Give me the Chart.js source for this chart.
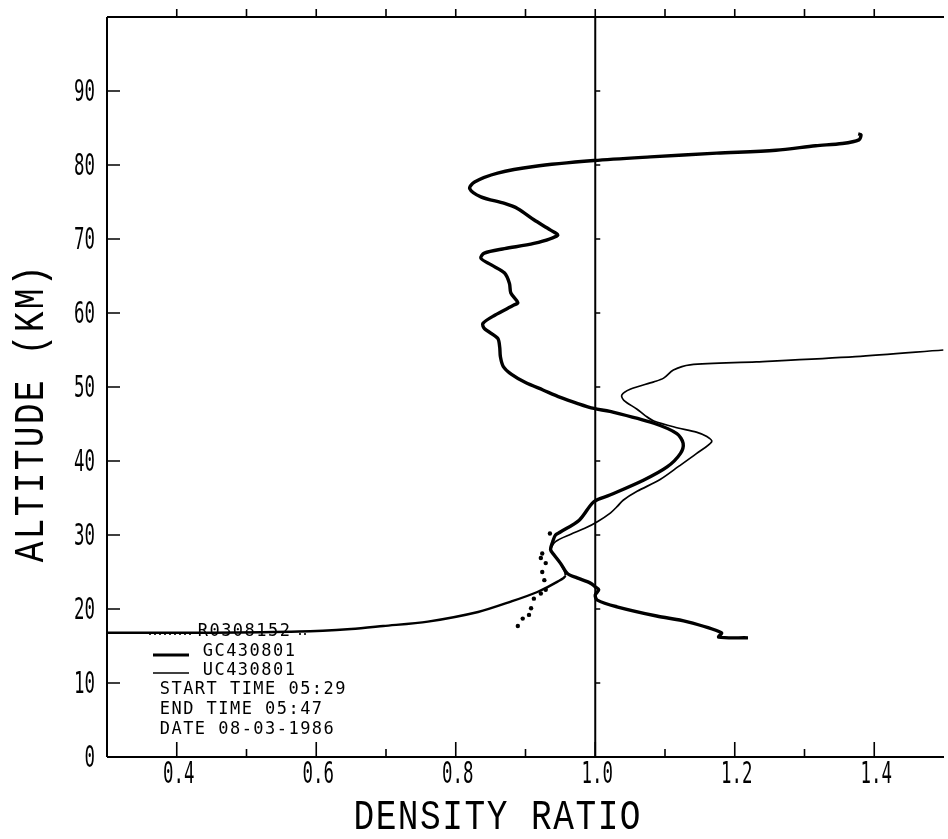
<!DOCTYPE html>
<html>
<head>
<meta charset="utf-8">
<script src="https://cdn.jsdelivr.net/npm/chart.js@4"></script>
<style>
html,body{margin:0;padding:0;background:#fff;}
#wrap{width:948px;height:839px;position:relative;}
</style>
</head>
<body>
<div id="wrap"><canvas id="c" width="948" height="839"></canvas></div>
<script>
// ---- data ----
const gcX = [1.219,1.177,1.181,1.131,1.088,1.031,1.003,1.000,1.005,1.000,0.993,0.974,0.960,0.950,0.941,0.936,0.939,0.943,0.950,0.977,0.998,1.021,1.069,1.103,1.122,1.126,1.117,1.084,1.021,0.998,0.974,0.950,0.925,0.900,0.880,0.868,0.864,0.863,0.860,0.841,0.839,0.856,0.884,0.889,0.879,0.877,0.870,0.851,0.836,0.841,0.870,0.912,0.946,0.936,0.912,0.889,0.870,0.836,0.820,0.827,0.860,0.912,0.998,1.079,1.174,1.259,1.316,1.354,1.378,1.381,1.377];
const gcY = [16.1,16.2,16.8,18.3,19.05,20.3,21.2,21.9,22.6,23.0,23.5,24.2,24.8,26.2,27.3,28.0,29.1,30.0,30.4,32.0,34.5,35.4,37.4,39.2,41.0,42.4,43.7,45.1,46.7,47.1,47.8,48.6,49.6,50.6,51.7,52.8,54.1,55.4,56.6,57.9,58.6,59.7,61.1,61.4,62.7,64.0,65.4,66.5,67.4,68.1,68.7,69.4,70.5,71.2,72.6,74.1,74.8,75.7,76.8,77.7,78.9,79.8,80.6,81.1,81.6,82.0,82.6,82.9,83.4,84.1,84.2];

const ucX = [0.300,0.450,0.575,0.650,0.696,0.760,0.832,0.879,0.917,0.946,0.957,0.950,0.941,0.936,0.943,0.965,0.985,1.003,1.022,1.032,1.040,1.060,1.093,1.120,1.145,1.167,1.160,1.145,1.117,1.084,1.072,1.060,1.041,1.038,1.050,1.084,1.098,1.112,1.136,1.231,1.373,1.499];
const ucY = [16.8,16.8,16.95,17.3,17.7,18.3,19.6,21.0,22.3,23.7,24.5,26.2,27.3,28.0,29.1,30.1,30.9,31.8,33.0,33.9,34.7,35.9,37.5,39.3,41.0,42.6,43.3,43.9,44.5,45.4,46.1,47.0,48.2,48.9,49.7,50.7,51.2,52.3,53.0,53.4,54.1,55.0];

const rX = [0.889,0.896,0.905,0.908,0.912,0.922,0.929,0.927,0.924,0.929,0.922,0.924,0.935];
const rY = [17.7,18.7,19.2,20.1,21.4,22.1,22.6,23.9,25.0,26.2,26.9,27.5,30.2];

const xTicks = [0.4,0.6,0.8,1.0,1.2,1.4];
const xTickLabels = ['0.4','0.6','0.8','1.0','1.2','1.4'];
const xMinorTicks = [0.5,0.7,0.9,1.1,1.3];
const topTicks = [0.4,0.5,0.6,0.7,0.8,0.9,1.0,1.1,1.2,1.3,1.4];
const yTicks = [0,10,20,30,40,50,60,70,80,90];
const yTickLabels = ['0','10','20','30','40','50','60','70','80','90'];
const legendNames = ['R0308152','GC430801','UC430801'];
const infoLines = ['START TIME 05:29','END TIME 05:47','DATE 08-03-1986'];
const xTitle = 'DENSITY RATIO';
const yTitle = 'ALTITUDE (KM)';

const toPts = (xs, ys) => xs.map((x, i) => ({x: x, y: ys[i]}));

function drawChars(ctx, text, x0, cy, adv, font, sx) {
  ctx.font = font;
  ctx.textAlign = 'center';
  ctx.textBaseline = 'middle';
  for (let i = 0; i < text.length; i++) {
    ctx.save();
    ctx.translate(x0 + adv * (i + 0.5), cy);
    ctx.scale(sx, 1);
    ctx.fillText(text[i], 0, 0);
    ctx.restore();
  }
}

const decor = {
  id: 'decor',
  afterDatasetsDraw(chart) {
    const ctx = chart.ctx;
    const xs = chart.scales.x, ys = chart.scales.y;
    const L = xs.left, R = xs.right, T = ys.top, B = ys.bottom;
    ctx.save();
    ctx.strokeStyle = '#000';
    ctx.fillStyle = '#000';
    ctx.lineCap = 'butt';
    // frame lines
    ctx.lineWidth = 2;
    ctx.beginPath();
    ctx.moveTo(L, T); ctx.lineTo(R, T);
    ctx.moveTo(L, T); ctx.lineTo(L, B);
    ctx.moveTo(L, B); ctx.lineTo(R, B);
    const x1 = xs.getPixelForValue(1.0);
    ctx.moveTo(x1, T); ctx.lineTo(x1, B);
    ctx.stroke();
    // top ticks (outward)
    ctx.lineWidth = 1.6;
    ctx.beginPath();
    topTicks.forEach(v => { const p = xs.getPixelForValue(v); ctx.moveTo(p, T); ctx.lineTo(p, T - 8); });
    // bottom ticks (inward)
    xTicks.forEach(v => { const p = xs.getPixelForValue(v); ctx.moveTo(p, B); ctx.lineTo(p, B - 15); });
    xMinorTicks.forEach(v => { const p = xs.getPixelForValue(v); ctx.moveTo(p, B); ctx.lineTo(p, B - 8); });
    // left ticks
    yTicks.forEach(v => { if (v === 0) return; const p = ys.getPixelForValue(v); ctx.moveTo(L, p); ctx.lineTo(L + 13, p); });
    // ticks on the 1.0 line
    yTicks.forEach(v => { if (v === 0) return; const p = ys.getPixelForValue(v); ctx.moveTo(x1, p); ctx.lineTo(x1 + 5, p); });
    ctx.stroke();

    // tick labels
    const tickFont = '30px "DejaVu Sans Mono"';
    xTicks.forEach((v, i) => {
      const s = xTickLabels[i];
      const adv = 10.5;
      const p = xs.getPixelForValue(v);
      drawChars(ctx, s, p + 2 - adv * s.length / 2, 775, adv, tickFont, 0.58);
    });
    yTicks.forEach((v, i) => {
      const s = yTickLabels[i];
      const adv = 10.5;
      const p = ys.getPixelForValue(v);
      drawChars(ctx, s, 95 - adv * s.length, p + 2, adv, tickFont, 0.58);
    });

    // axis titles
    const titleFont = '42px "Liberation Mono"';
    drawChars(ctx, xTitle, 497 - 22.2 * xTitle.length / 2, 818, 22.2, titleFont, 0.82);
    ctx.save();
    ctx.translate(32, 414);
    ctx.rotate(-Math.PI / 2);
    drawChars(ctx, yTitle, -23 * yTitle.length / 2, 0, 23, titleFont, 0.82);
    ctx.restore();

    // legend
    const lf = '17px "DejaVu Sans Mono"';
    drawChars(ctx, legendNames[0], 197, 632, 11.7, lf, 1);
    drawChars(ctx, legendNames[1], 202, 652, 11.7, lf, 1);
    drawChars(ctx, legendNames[2], 202, 671, 11.7, lf, 1);
    infoLines.forEach((s, i) => drawChars(ctx, s, 159, 690 + 20 * i, 11.7, lf, 1));
    // legend samples
    ctx.beginPath();
    for (let xx = 150; xx <= 194; xx += 5) { ctx.moveTo(xx, 634); ctx.arc(xx, 634, 1.1, 0, Math.PI * 2); }
    for (let xx = 300; xx <= 306; xx += 5) { ctx.moveTo(xx, 634); ctx.arc(xx, 634, 1.1, 0, Math.PI * 2); }
    ctx.fill();
    ctx.lineWidth = 3;
    ctx.beginPath(); ctx.moveTo(153, 655); ctx.lineTo(189, 655); ctx.stroke();
    ctx.lineWidth = 1.6;
    ctx.beginPath(); ctx.moveTo(153, 673); ctx.lineTo(189, 673); ctx.stroke();
    ctx.restore();
  }
};

new Chart(document.getElementById('c'), {
  type: 'scatter',
  data: {
    datasets: [
      { label: legendNames[1], data: toPts(gcX, gcY), showLine: true, borderColor: '#000', borderWidth: 3.4, pointRadius: 0, tension: 0.3, fill: false },
      { label: legendNames[2], data: toPts(ucX, ucY), showLine: true, borderColor: '#000', borderWidth: 1.7, pointRadius: 0, tension: 0.3, fill: false,
        segment: { borderWidth: c => (c.p1DataIndex <= 10 ? 2.4 : 1.7) } },
      { label: legendNames[0], data: toPts(rX, rY), showLine: false, backgroundColor: '#000', borderColor: '#000', pointRadius: 2.2, borderWidth: 0 }
    ]
  },
  options: {
    responsive: false,
    animation: false,
    layout: { padding: { left: 107, right: 0, top: 17, bottom: 82 } },
    plugins: { legend: { display: false }, tooltip: { enabled: false } },
    scales: {
      x: { type: 'linear', min: 0.3, max: 1.5, display: false },
      y: { type: 'linear', min: 0, max: 100, display: false }
    }
  },
  plugins: [decor]
});
</script>
</body>
</html>
